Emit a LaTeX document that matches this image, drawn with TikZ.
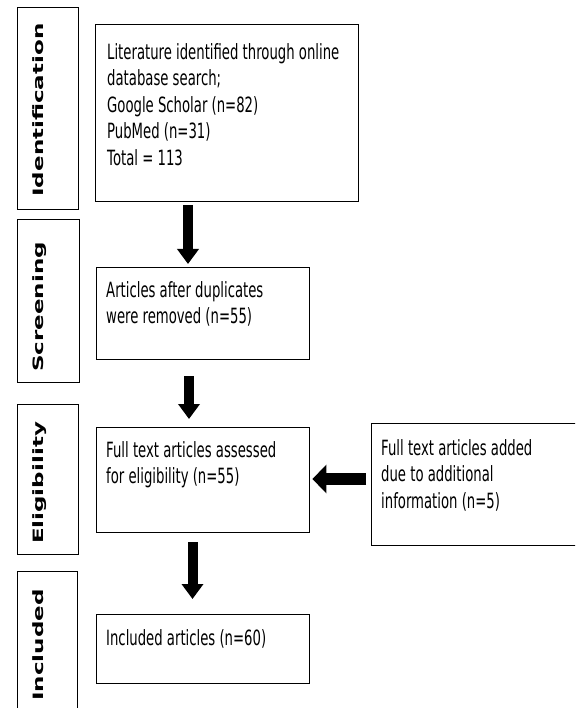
\documentclass[tikz,border=0pt]{standalone}
\usepackage{fontspec}
\usepackage{graphicx}
\usetikzlibrary{arrows.meta}
\newfontfamily\bodyfont[FakeStretch=0.63]{DejaVu Sans}
\newfontfamily\labfont{DejaVu Sans}
\tikzset{
  box/.style={draw=black, line width=1.4pt, rectangle, inner sep=0pt, anchor=north west},
  txt/.style={anchor=north west, inner sep=0pt, align=left, font=\bodyfont\fontsize{21pt}{26.5pt}\selectfont},
  lab/.style={rotate=90, anchor=base, inner sep=0pt, font=\labfont\bfseries\fontsize{23pt}{23pt}\selectfont},
  bigarrow/.style={line width=10pt, -{Triangle[length=15pt,width=21pt]}},
  sidearrow/.style={line width=12pt, -{Triangle[length=14pt,width=28pt]}}
}
\begin{document}
\begin{tikzpicture}[x=1pt,y=-1pt]
\useasboundingbox (0,0) rectangle (575,708);
\clip (0,0) rectangle (575,708);
% stage label boxes
\node[box, minimum width=61pt, minimum height=202pt] (idbox) at (17,7) {};
\node[box, minimum width=62pt, minimum height=163pt] (scbox) at (17,219) {};
\node[box, minimum width=61pt, minimum height=150pt] (elbox) at (17,404) {};
\node[box, minimum width=60pt, minimum height=150pt] (inbox) at (17,571) {};
\node[lab] (idlab) at (43,110) {\scalebox{1}[0.62]{Identification}};
\node[lab] (sclab) at (43,307) {\scalebox{1}[0.62]{Screening}};
\node[lab] (ellab) at (43,483) {\scalebox{1}[0.62]{Eligibility}};
\node[lab] (inlab) at (43,645) {\scalebox{1}[0.62]{Included}};
% main boxes
\node[box, minimum width=263pt, minimum height=177pt] (lit) at (95,24) {};
\node[box, minimum width=213pt, minimum height=92pt] (scr) at (96,267) {};
\node[box, minimum width=213pt, minimum height=105pt] (eli) at (96,427) {};
\node[box, minimum width=215pt, minimum height=122pt] (add) at (371,423) {};
\node[box, minimum width=213pt, minimum height=69pt] (inc) at (96,614) {};
% texts
\node[txt] (littxt) at (107,43) {Literature identified through online\\database search;\\Google Scholar (n=82)\\PubMed (n=31)\\Total = 113};
\node[txt] (scrtxt) at (106,281) {Articles after duplicates\\were removed (n=55)};
\node[txt] (elitxt) at (106,441) {Full text articles assessed\\for eligibility (n=55)};
\node[txt] (addtxt) at (381,439) {Full text articles added\\due to additional\\information (n=5)};
\node[txt] (inctxt) at (106,629) {Included articles (n=60)};
% arrows
\coordinate (c1) at (188,0);
\coordinate (c2) at (189,0);
\coordinate (c3) at (192.5,0);
\coordinate (c4) at (0,479);
\draw[bigarrow, shorten <=3pt, shorten >=3pt] (lit.south -| c1) -- (scr.north -| c1);
\draw[bigarrow, shorten <=16pt, shorten >=8pt] (scr.south -| c2) -- (eli.north -| c2);
\draw[bigarrow, shorten <=9pt, shorten >=15pt] (eli.south -| c3) -- (inc.north -| c3);
\draw[sidearrow, shorten <=5pt, shorten >=2pt] (add.west |- c4) -- (eli.east |- c4);
\end{tikzpicture}
\end{document}
